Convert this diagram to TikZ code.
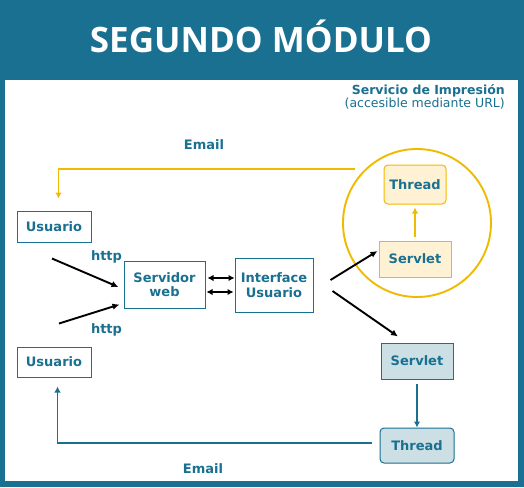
\documentclass[tikz,border=0pt]{standalone}
\usepackage{fontspec}
\setmainfont{DejaVu Sans}
\newfontfamily\titlefont{Open Sans}
\usetikzlibrary{arrows.meta}
\definecolor{teal1}{HTML}{1A7090}
\definecolor{gold}{HTML}{F0BA00}
\definecolor{paleY}{HTML}{FFF2D4}
\definecolor{paleB}{HTML}{CCDFE5}
\begin{document}
\begin{tikzpicture}[x=1pt,y=-1pt,
  box/.style={draw=teal1, line width=1pt, text=teal1, font=\bfseries\fontsize{13}{14.5}\selectfont, align=center, inner sep=0pt},
  ybox/.style={box, draw=gold, fill=paleY},
  bbox/.style={box, fill=paleB},
  lbl/.style={text=teal1, font=\bfseries\fontsize{13}{14.5}\selectfont, inner sep=0pt},
  blk/.style={line width=1.9pt, -{Latex[length=7pt,width=6.5pt]}},
  dbl/.style={line width=1.9pt, {Latex[length=6pt,width=6.5pt]}-{Latex[length=6pt,width=6.5pt]}},
  yarr/.style={draw=gold, line width=1.9pt, -{Latex[length=6pt,width=6.5pt]}},
  tarr/.style={draw=teal1, line width=1.9pt, -{Latex[length=6pt,width=6.5pt]}}]
\useasboundingbox (0,0) rectangle (524,487);
\fill[teal1] (0,0) rectangle (524,487);
\fill[white] (5,80) rectangle (518,481);
\node[text=white, font=\titlefont\bfseries\fontsize{35}{40}\selectfont, inner sep=0pt] (title) at (261,36) {SEGUNDO MÓDULO};
\node[text=teal1, font=\bfseries\fontsize{12.5}{14}\selectfont, anchor=east, inner sep=0pt] (serv) at (505,91) {Servicio de Impresión};
\node[text=teal1, font=\fontsize{12.5}{14}\selectfont, anchor=east, inner sep=0pt] (acc) at (505,104) {(accesible mediante URL)};
% circle
\node[draw=gold, line width=1.9pt, circle, minimum size=148pt, inner sep=0pt] (circ) at (417,223) {};
% nodes
\node[box, minimum width=74pt, minimum height=31pt] (u1) at (54,226.5) {Usuario};
\node[box, minimum width=74pt, minimum height=30pt] (u2) at (54,362) {Usuario};
\node[box, minimum width=81pt, minimum height=47pt] (srv) at (164.5,284.5) {Servidor\\web};
\node[box, minimum width=78pt, minimum height=54pt] (ifc) at (274,285) {Interface\\Usuario};
\node[ybox, rounded corners=4pt, minimum width=62pt, minimum height=39pt] (ty) at (415,184.5) {Thread};
\node[ybox, minimum width=72pt, minimum height=36pt] (sy) at (415,259) {Servlet};
\node[bbox, minimum width=72pt, minimum height=36pt] (sb) at (417,361) {Servlet};
\node[bbox, rounded corners=4pt, minimum width=74pt, minimum height=35pt] (tb) at (417,445.5) {Thread};
% labels
\node[lbl] (em1) at (204,145) {Email};
\node[lbl] (em2) at (203,469) {Email};
\node[lbl] (h1) at (106.5,257) {http};
\node[lbl] (h2) at (106.5,330) {http};
% coordinates
\coordinate (a1) at ([xshift=-2pt,yshift=-16pt]u1.south);
\coordinate (a2) at ([xshift=5pt,yshift=23pt]u2.north);
\coordinate (b1) at ([xshift=17pt,yshift=5pt]ifc.east);
\coordinate (b2) at ([xshift=19pt,yshift=-6pt]ifc.east);
\coordinate (e1) at ([xshift=-29pt,yshift=15.5pt]ty.west);
\coordinate (e2) at ([xshift=-8pt,yshift=2.5pt]tb.west);
% connectors
\draw[blk] (a1) -- ([xshift=-5pt,yshift=-2.5pt]srv.west);
\draw[blk] (a2) -- ([xshift=-4pt,yshift=4pt]srv.south west);
\draw[dbl] ([xshift=2pt,yshift=6.5pt]srv.east) -- ([yshift=7pt]ifc.west);
\draw[dbl] ([xshift=1pt,yshift=-7.5pt]srv.east) -- ([xshift=-1pt,yshift=-7pt]ifc.west);
\draw[blk] (b1) -- ([xshift=-1pt,yshift=8pt]sy.west);
\draw[blk] (b2) -- ([xshift=-19pt,yshift=6pt]sb.north);
\draw[yarr, shorten <=4pt, shorten >=3pt] (sy.north) -- (ty.south);
\draw[tarr, shorten <=4pt] (sb.south) -- (tb.north);
\draw[yarr, shorten >=12pt] (e1) -| ([xshift=4.5pt]u1.north);
\draw[tarr, shorten >=9pt] (e2) -| ([xshift=3.5pt]u2.south);
\end{tikzpicture}
\end{document}
